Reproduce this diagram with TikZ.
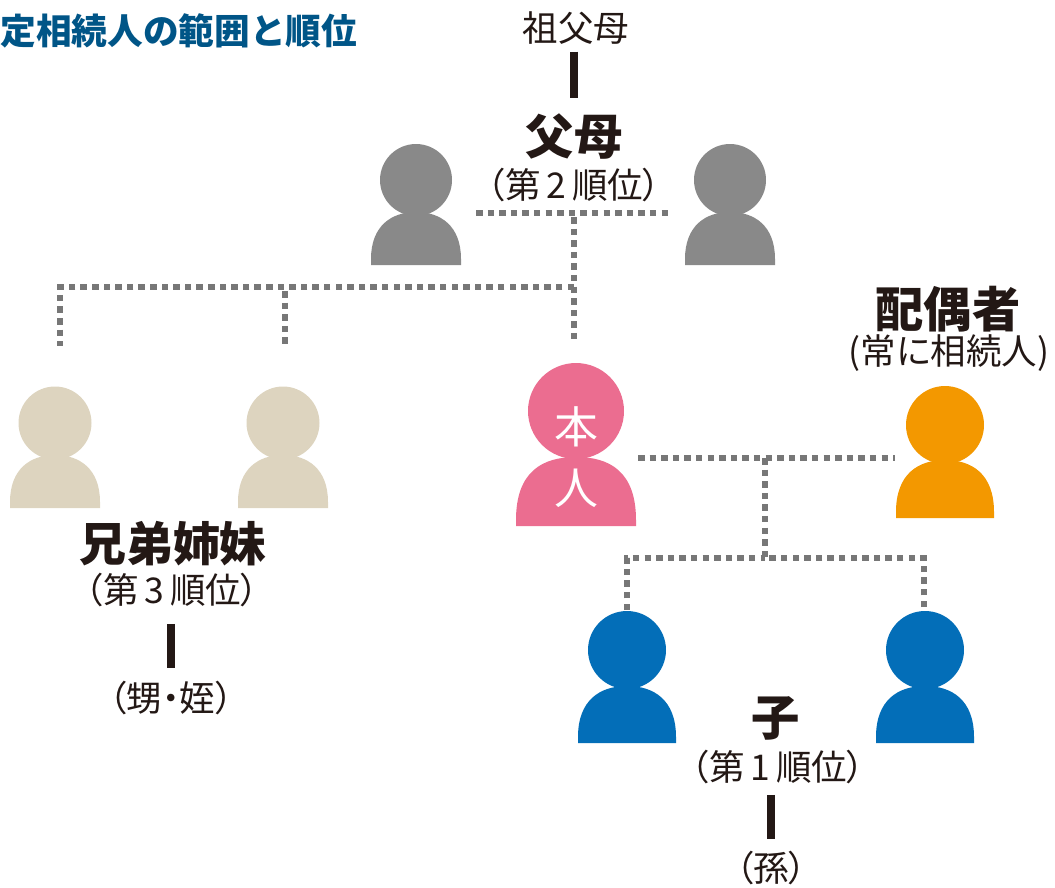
\documentclass[tikz,border=0pt]{standalone}
\usepackage{fontspec}
\usepackage{xcolor}
\setmainfont{Noto Sans CJK JP}[RawFeature=+palt]
\newfontfamily\titlefont{Noto Sans CJK JP}
\definecolor{inkc}{HTML}{231815}
\definecolor{titlec}{HTML}{005587}
\definecolor{dotc}{HTML}{777777}
\definecolor{grayc}{HTML}{898989}
\definecolor{beigec}{HTML}{DDD4BF}
\definecolor{pinkc}{HTML}{EB6D90}
\definecolor{orangec}{HTML}{F39800}
\definecolor{bluec}{HTML}{036EB8}
\tikzset{
    namelabel/.style={inner sep=0pt, text=inkc, font=\fontsize{27.5pt}{30pt}\selectfont\bfseries},
    sublabel/.style={inner sep=0pt, text=inkc, font=\fontsize{20.2pt}{22pt}\selectfont},
    selflabel/.style={inner sep=0pt, text=white, font=\fontsize{25pt}{28pt}\selectfont},
    kinline/.style={draw=dotc, line width=3.7pt, dash pattern=on 3.7pt off 2.9pt},
    bloodbar/.style={draw=inkc, line width=4pt},
}

\begin{document}
\begin{tikzpicture}[x=0.02cm, y=-0.02cm]
    \useasboundingbox (0, 0) rectangle (1055, 887);

    % People
    \foreach \n/\cx/\hr/\hy/\bw/\bt/\bb/\col in {
        fatherp/416/36/180/45/212/265/grayc,
        motherp/730/36/180/45/212/265/grayc,
        sibap/55/36.5/423/45/455/508/beigec,
        sibbp/283/36.5/423/45/455/508/beigec,
        selfp/576/48/411/60/457/526/pinkc,
        spousep/945/39/425/49/460/518/orangec,
        childap/627/39/650/49/686/743/bluec,
        childbp/925/39/650/49/686/743/bluec}{
        \fill[\col] (\cx, \hy) circle[radius=\hr];
        \fill[\col] (\cx - \bw, \bb) -- (\cx - \bw, \bb - 6)
            .. controls (\cx - \bw, \bt + 14) and (\cx - 0.55 * \bw, \bt) .. (\cx, \bt)
            .. controls (\cx + 0.55 * \bw, \bt) and (\cx + \bw, \bt + 14) .. (\cx + \bw, \bb - 6)
            -- (\cx + \bw, \bb) -- cycle;
        \coordinate (\n) at (\cx, \bb);
    }

    % Labels
    \node[anchor=west, inner sep=0pt, text=titlec, font=\fontsize{20.3pt}{24pt}\selectfont\titlefont\bfseries] (title) at (0, 31) {定相続人の範囲と順位};
    \node[sublabel] (grandparents) at (576, 28) {祖父母};
    \node[namelabel] (parents) at (574, 137) {父母};
    \node[sublabel] (parentsrank) at (574, 185) {（第\,2\,順位）};
    \node[namelabel] (spouse) at (948, 309) {配偶者};
    \node[sublabel] (spouserank) at (949, 353) {(常に相続人)};
    \node[namelabel, font=\fontsize{26.7pt}{30pt}\selectfont\bfseries] (siblings) at (173, 544) {兄弟姉妹};
    \node[sublabel] (siblingsrank) at (172, 590) {（第\,3\,順位）};
    \node[sublabel] (nephews) at (171, 698) {（甥・姪）};
    \node[namelabel] (child) at (776, 718) {子};
    \node[sublabel] (childrank) at (778, 767) {（第\,1\,順位）};
    \node[sublabel] (grandchild) at (771, 868) {（孫）};
    \node[selflabel] (selfa) at (576, 427) {本};
    \node[selflabel] (selfb) at (576, 488) {人};

    % Line ends
    \coordinate (parentl) at (476, 213);
    \coordinate (parentr) at (673, 213);
    \coordinate (parentm) at (574, 217);
    \coordinate (parentd) at (574, 340);
    \coordinate (siba) at (60, 346);
    \coordinate (sibb) at (285, 345);
    \coordinate (sibm) at (574, 287);
    \coordinate (sibbt) at (285, 291);
    \coordinate (selfr) at (638, 458);
    \coordinate (spousel) at (895, 458);
    \coordinate (couplem) at (765, 458);
    \coordinate (childm) at (765, 558);
    \coordinate (childa) at (627, 610);
    \coordinate (childb) at (924, 607);

    % Kin lines
    \draw[kinline] (parentl) -- (parentr);
    \draw[kinline] (parentm) -- (parentd);
    \draw[kinline] (sibm) -| (siba);
    \draw[kinline] (sibbt) -- (sibb);
    \draw[kinline] (selfr) -- (spousel);
    \draw[kinline] (couplem) -- (childm);
    \draw[kinline] (childa) |- (childm);
    \draw[kinline] (childb) |- (childm);

    % Bars
    \draw[bloodbar, shorten <=4pt, shorten >=9pt] (grandparents.south -| parents) -- (parents.north);
    \draw[bloodbar, shorten <=9.5pt, shorten >=7.2pt] (siblingsrank.south -| nephews) -- (nephews.north);
    \draw[bloodbar, shorten <=6pt, shorten >=6.8pt] (childrank.south -| grandchild) -- (grandchild.north);
\end{tikzpicture}
\end{document}
